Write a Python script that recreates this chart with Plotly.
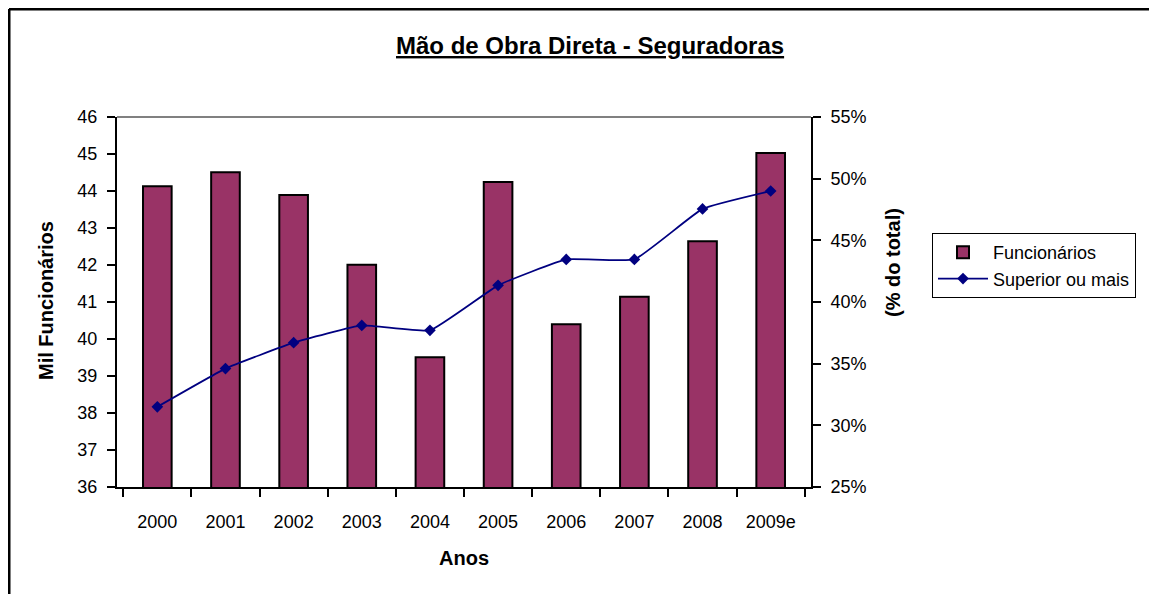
import plotly.graph_objects as go

anos = ["2000", "2001", "2002", "2003", "2004", "2005", "2006", "2007", "2008", "2009e"]
funcionarios = [44.13, 44.51, 43.89, 42.01, 39.51, 44.24, 40.40, 41.14, 42.64, 45.03]
superior_pct = [31.5, 34.6, 36.7, 38.1, 37.7, 41.35, 43.45, 43.45, 47.55, 49.0]

FONT = "Liberation Sans"
OFF = 8  # default page body margin

fig = go.Figure()
fig.add_trace(go.Bar(
    x=anos, y=funcionarios, name="Funcionários",
    marker=dict(color="#993366", line=dict(color="black", width=2)),
    width=0.42, yaxis="y",
))
fig.add_trace(go.Scatter(
    x=anos, y=superior_pct, name="Superior ou mais", yaxis="y2",
    mode="lines+markers",
    line=dict(color="#000080", width=1.8, shape="spline", smoothing=0.35),
    marker=dict(symbol="diamond", size=9, color="#000080"),
))

# reference pixel positions
L, R, T, B = 117, 811, 117, 487
W, H = 1157 - OFF, 594 - OFF
pw, ph = R - L, B - T

def px(x):
    return (x - L) / pw

def py(y):
    return (B - y) / ph

fig.update_layout(
    width=W, height=H,
    margin=dict(l=L - OFF, r=W - (R - OFF), t=T - OFF, b=H - (B - OFF)),
    paper_bgcolor="white", plot_bgcolor="white",
    font=dict(family=FONT, size=16, color="black"),
    showlegend=True,
    xaxis=dict(
        type="category", tickson="boundaries", ticks="outside", ticklen=8,
        tickwidth=2, tickcolor="black", showline=True, linecolor="black",
        linewidth=2, showgrid=False, ticklabelstandoff=17,
        tickfont=dict(family=FONT, size=18),
    ),
    yaxis=dict(
        range=[36, 46], dtick=1, ticks="outside", ticklen=8, tickwidth=2,
        tickcolor="black", showline=True, linecolor="black", linewidth=2,
        showgrid=False, zeroline=False, tickfont=dict(family=FONT, size=18),
        ticklabelstandoff=6,
    ),
    yaxis2=dict(
        range=[25, 55], dtick=5, overlaying="y", side="right", ticks="outside",
        ticklen=8, tickwidth=2, tickcolor="black", showline=True,
        linecolor="black", linewidth=2, showgrid=False, zeroline=False,
        ticksuffix="%", tickfont=dict(family=FONT, size=18),
        ticklabelstandoff=6,
    ),
    legend=dict(
        x=px(932), y=py(233), xanchor="left", yanchor="top",
        bordercolor="black", borderwidth=1, bgcolor="white",
        font=dict(family=FONT, size=18), tracegroupgap=2, itemwidth=50,
    ),
    annotations=[
        dict(text="<b><u>Mão de Obra Direta - Seguradoras</u></b>", x=px(590), y=py(45),
             xref="paper", yref="paper", showarrow=False,
             font=dict(family=FONT, size=24, color="black"),
             xanchor="center", yanchor="middle"),
        dict(text="<b>Mil Funcionários</b>", x=px(46), y=py(301),
             xref="paper", yref="paper", showarrow=False, textangle=-90,
             font=dict(family=FONT, size=20), xanchor="center", yanchor="middle"),
        dict(text="<b>(% do total)</b>", x=px(893), y=py(263),
             xref="paper", yref="paper", showarrow=False, textangle=-90,
             font=dict(family=FONT, size=20), xanchor="center", yanchor="middle"),
        dict(text="<b>Anos</b>", x=px(464), y=py(558),
             xref="paper", yref="paper", showarrow=False,
             font=dict(family=FONT, size=20), xanchor="center", yanchor="middle"),
    ],
    shapes=[
        dict(type="line", xref="paper", yref="paper", x0=px(L), x1=px(R),
             y0=py(T), y1=py(T), line=dict(color="#808080", width=2)),
        dict(type="line", xref="paper", yref="paper", x0=px(9), x1=px(1157 + 5),
             y0=py(9), y1=py(9), line=dict(color="black", width=3)),
        dict(type="line", xref="paper", yref="paper", x0=px(9), x1=px(9),
             y0=py(9), y1=py(594 + 5), line=dict(color="black", width=3)),
    ],
)

fig.write_html("out.html")
